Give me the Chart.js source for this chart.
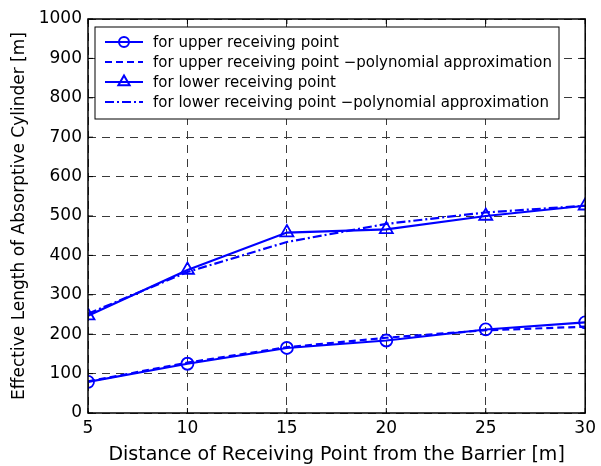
<!DOCTYPE html>
<html>
<head>
<meta charset="utf-8">
<script src="https://cdn.jsdelivr.net/npm/chart.js@4/dist/chart.umd.min.js"></script>
<style>
  html, body { margin: 0; padding: 0; background: #fff; }
  #wrap { width: 601px; height: 466px; }
</style>
</head>
<body>
<div id="wrap"><canvas id="myChart" width="601" height="466"></canvas></div>
<script>
const distances = [5, 10, 15, 20, 25, 30];
const upperMeasured = [79, 125, 165, 184, 212, 230];
const upperPoly = [80, 128, 167, 191, 210, 219];
const lowerMeasured = [247, 363, 458, 466, 500, 526];
const lowerPoly = [252, 358, 434, 480, 509, 526];
const legendLabels = [
  "for upper receiving point",
  "for upper receiving point \u2212polynomial approximation",
  "for lower receiving point",
  "for lower receiving point \u2212polynomial approximation",
];

const BLUE = "#0000ff";
const FONT = "'DejaVu Sans', sans-serif";

const toXY = (arr) => arr.map((v, i) => ({ x: distances[i], y: v }));

// frame + inward ticks + legend box, drawn on top like matlab does
const frameAndLegend = {
  id: "frameAndLegend",
  afterDraw(chart) {
    const { ctx, chartArea: a, scales } = chart;
    ctx.save();
    ctx.strokeStyle = "#000";
    ctx.lineWidth = 1.5;
    ctx.setLineDash([]);
    ctx.strokeRect(a.left, a.top, a.right - a.left, a.bottom - a.top);

    ctx.lineWidth = 1;
    ctx.beginPath();
    scales.x.ticks.forEach((t) => {
      const px = scales.x.getPixelForValue(t.value);
      ctx.moveTo(px, a.bottom); ctx.lineTo(px, a.bottom - 5);
      ctx.moveTo(px, a.top); ctx.lineTo(px, a.top + 5);
    });
    scales.y.ticks.forEach((t) => {
      const py = scales.y.getPixelForValue(t.value);
      ctx.moveTo(a.left, py); ctx.lineTo(a.left + 5, py);
      ctx.moveTo(a.right, py); ctx.lineTo(a.right - 5, py);
    });
    ctx.stroke();

    // legend
    const bx = 95, by = 27, bw = 464, bh = 92;
    ctx.fillStyle = "#fff";
    ctx.fillRect(bx, by, bw, bh);
    ctx.strokeStyle = "#000";
    ctx.lineWidth = 1;
    ctx.strokeRect(bx, by, bw, bh);

    const ds = chart.data.datasets;
    ctx.font = "15px " + FONT;
    ctx.textBaseline = "middle";
    legendLabels.forEach((lbl, i) => {
      const y = 42 + i * 20;
      const d = ds[i];
      ctx.strokeStyle = BLUE;
      ctx.lineWidth = 2;
      ctx.setLineDash(d.borderDash || []);
      ctx.beginPath();
      ctx.moveTo(105, y); ctx.lineTo(143, y);
      ctx.stroke();
      ctx.setLineDash([]);
      if (d.pointRadius > 0) {
        ctx.fillStyle = "rgba(0,0,0,0)";
        Chart.helpers.drawPoint(ctx, {
          pointStyle: d.pointStyle, radius: d.pointRadius - 1,
          borderWidth: 1.8, rotation: 0,
        }, 124, y);
      }
      ctx.fillStyle = "#000";
      ctx.fillText(lbl, 153, y + 1);
    });
    ctx.restore();
  },
};

new Chart(document.getElementById("myChart"), {
  type: "line",
  data: {
    datasets: [
      {
        label: legendLabels[0],
        data: toXY(upperMeasured),
        borderColor: BLUE, backgroundColor: "rgba(0,0,0,0)",
        borderWidth: 2.2, pointStyle: "circle", pointRadius: 6,
        pointBorderWidth: 1.8, pointBorderColor: BLUE,
      },
      {
        label: legendLabels[1],
        data: toXY(upperPoly),
        borderColor: BLUE, borderWidth: 2.2, borderDash: [7, 4],
        pointRadius: 0,
      },
      {
        label: legendLabels[2],
        data: toXY(lowerMeasured),
        borderColor: BLUE, backgroundColor: "rgba(0,0,0,0)",
        borderWidth: 2.2, pointStyle: "triangle", pointRadius: 7.5,
        pointBorderWidth: 1.8, pointBorderColor: BLUE,
      },
      {
        label: legendLabels[3],
        data: toXY(lowerPoly),
        borderColor: BLUE, borderWidth: 2.2, borderDash: [9, 3, 2, 3],
        pointRadius: 0,
      },
    ],
  },
  options: {
    responsive: false,
    animation: false,
    layout: { padding: { top: 19, right: 12, left: 0, bottom: 0 } },
    plugins: { legend: { display: false }, tooltip: { enabled: false } },
    scales: {
      x: {
        type: "linear", min: 5, max: 30,
        afterFit: (s) => { s.height = 53; },
        ticks: {
          stepSize: 5, padding: 5, color: "#000",
          font: { family: FONT, size: 17 },
        },
        grid: { color: "#3a3a3a", lineWidth: 1, drawTicks: false },
        border: { display: false, dash: [8, 6] },
        title: {
          display: true, text: "Distance of Receiving Point from the Barrier [m]",
          color: "#000", font: { family: FONT, size: 19 }, padding: { top: 5, bottom: 0 },
        },
      },
      y: {
        min: 0, max: 1000,
        afterFit: (s) => { s.width = 88; },
        ticks: {
          stepSize: 100, padding: 6, color: "#000",
          font: { family: FONT, size: 17 },
          callback: (v) => String(v),
        },
        grid: { color: "#3a3a3a", lineWidth: 1, drawTicks: false },
        border: { display: false, dash: [8, 6] },
        title: {
          display: true, text: "Effective Length of Absorptive Cylinder [m]",
          color: "#000", font: { family: FONT, size: 17 }, padding: { top: 9, bottom: 0 },
        },
      },
    },
  },
  plugins: [frameAndLegend],
});
</script>
</body>
</html>
